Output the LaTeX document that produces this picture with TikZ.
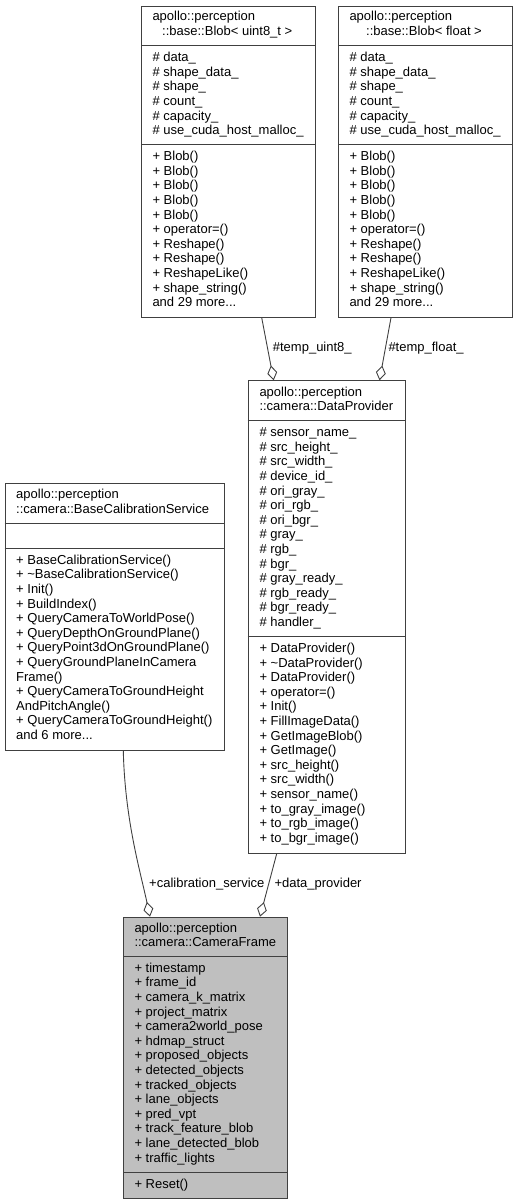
\documentclass[tikz,border=0pt]{standalone}
\usepackage{fontspec}
\setmainfont{Liberation Sans}
\usetikzlibrary{arrows.meta}
\definecolor{edgegray}{RGB}{64,64,64}
\definecolor{cfgray}{RGB}{191,191,191}
\newcommand\mdots{...}
\tikzset{
  txt/.style={inner sep=0pt, font=\fontsize{13}{14.6}\selectfont, text=black},
  classbox/.style={draw=edgegray, line width=1pt, inner sep=0pt, anchor=north west},
  sepline/.style={draw=edgegray, line width=1pt},
  agg/.style={draw=edgegray, line width=0.9pt, -{Diamond[open, length=15pt, width=10pt]}},
  lbl/.style={inner sep=0pt, font=\fontsize{13}{14.6}\selectfont, anchor=base west}
}
\newcommand\cllines[4]{%
  \foreach \lineitem [count=\i from 0] in {#4} {
    \node[txt, anchor=base west] (#1-\i) at (#2, {#3+14.6*\i}) {\lineitem};
  }}
\begin{document}
\begin{tikzpicture}[x=1pt, y=-1pt]
\useasboundingbox (0,0) rectangle (517,1204);

% ---------- Blob< uint8_t >
\node[classbox, minimum width=173.7pt, minimum height=310.7pt] (blobu) at (141,6) {};
\draw[sepline] (141,46) -- (314.7,46);
\draw[sepline] (141,144.7) -- (314.7,144.7);
\node[txt, anchor=base west] (blobu-t1) at (152.3,21) {apollo::perception};
\node[txt, anchor=base west] (blobu-t2) at (162,35.6) {::base::Blob< uint8\_t >};
\cllines{blobua}{152.3}{61.7}{\# data\_,\# shape\_data\_,\# shape\_,\# count\_,\# capacity\_,\# use\_cuda\_host\_malloc\_}
\cllines{blobum}{152.3}{160.7}{+ Blob(),+ Blob(),+ Blob(),+ Blob(),+ Blob(),+ operator=(),+ Reshape(),+ Reshape(),+ ReshapeLike(),+ shape\_string(),and 29 more\mdots}

% ---------- Blob< float >
\node[classbox, minimum width=174pt, minimum height=310.7pt] (blobf) at (338.3,6) {};
\draw[sepline] (338.3,46) -- (512.3,46);
\draw[sepline] (338.3,144.7) -- (512.3,144.7);
\node[txt, anchor=base west] (blobf-t1) at (349.3,21) {apollo::perception};
\node[txt, anchor=base west] (blobf-t2) at (366,35.6) {::base::Blob< float >};
\cllines{blobfa}{349.3}{61.7}{\# data\_,\# shape\_data\_,\# shape\_,\# count\_,\# capacity\_,\# use\_cuda\_host\_malloc\_}
\cllines{blobfm}{349.3}{160.7}{+ Blob(),+ Blob(),+ Blob(),+ Blob(),+ Blob(),+ operator=(),+ Reshape(),+ Reshape(),+ ReshapeLike(),+ shape\_string(),and 29 more\mdots}

% ---------- DataProvider
\node[classbox, minimum width=157.6pt, minimum height=472.4pt] (dp) at (247.7,380.3) {};
\draw[sepline] (247.7,420.7) -- (405.3,420.7);
\draw[sepline] (247.7,636.7) -- (405.3,636.7);
\node[txt, anchor=base west] (dp-t1) at (259.3,396.3) {apollo::perception};
\node[txt, anchor=base west] (dp-t2) at (259.3,410.9) {::camera::DataProvider};
\cllines{dpa}{259.3}{436.7}{\# sensor\_name\_,\# src\_height\_,\# src\_width\_,\# device\_id\_,\# ori\_gray\_,\# ori\_rgb\_,\# ori\_bgr\_,\# gray\_,\# rgb\_,\# bgr\_,\# gray\_ready\_,\# rgb\_ready\_,\# bgr\_ready\_,\# handler\_}
\cllines{dpm}{259.3}{652.5}{+ DataProvider(),+ \textasciitilde DataProvider(),+ DataProvider(),+ operator=(),+ Init(),+ FillImageData(),+ GetImageBlob(),+ GetImage(),+ src\_height(),+ src\_width(),+ sensor\_name(),+ to\_gray\_image(),+ to\_rgb\_image(),+ to\_bgr\_image()}

% ---------- BaseCalibrationService
\node[classbox, minimum width=219.3pt, minimum height=267pt] (bcs) at (4.7,483) {};
\draw[sepline] (4.7,523) -- (224,523);
\draw[sepline] (4.7,548.7) -- (224,548.7);
\node[txt, anchor=base west] (bcs-t1) at (16,498.7) {apollo::perception};
\node[txt, anchor=base west] (bcs-t2) at (16,513.3) {::camera::BaseCalibrationService};
\cllines{bcsm}{16}{564.2}{+ BaseCalibrationService(),+ \textasciitilde BaseCalibrationService(),+ Init(),+ BuildIndex(),+ QueryCameraToWorldPose(),+ QueryDepthOnGroundPlane(),+ QueryPoint3dOnGroundPlane(),+ QueryGroundPlaneInCamera,Frame(),+ QueryCameraToGroundHeight,AndPitchAngle(),+ QueryCameraToGroundHeight(),and 6 more\mdots}

% ---------- CameraFrame
\node[classbox, fill=cfgray, minimum width=164pt, minimum height=281.3pt] (cf) at (123.3,916.7) {};
\draw[sepline] (123.3,956.3) -- (287.3,956.3);
\draw[sepline] (123.3,1172.3) -- (287.3,1172.3);
\node[txt, anchor=base west] (cf-t1) at (134.3,932.5) {apollo::perception};
\node[txt, anchor=base west] (cf-t2) at (134.3,946.8) {::camera::CameraFrame};
\cllines{cfa}{134.3}{972.3}{+ timestamp,+ frame\_id,+ camera\_k\_matrix,+ project\_matrix,+ camera2world\_pose,+ hdmap\_struct,+ proposed\_objects,+ detected\_objects,+ tracked\_objects,+ lane\_objects,+ pred\_vpt,+ track\_feature\_blob,+ lane\_detected\_blob,+ traffic\_lights}
\node[txt, anchor=base west] (cfm-0) at (134.3,1188) {+ Reset()};

% ---------- connectors
\draw[agg] ([xshift=120.7pt]blobu.south west) -- ([xshift=26pt]dp.north west);
\node[lbl] (l1) at (272.7,351.7) {\#temp\_uint8\_};
\draw[agg] ([xshift=52.7pt]blobf.south west) -- ([xshift=131.8pt]dp.north west);
\node[lbl] (l2) at (388.3,351.7) {\#temp\_float\_};
\draw[agg] ([xshift=118.6pt]bcs.south west) .. controls (125,820) and (140,870) .. ([xshift=26.7pt]cf.north west);
\node[lbl] (l3) at (149,887.3) {+calibration\_service};
\draw[agg] ([xshift=29pt]dp.south west) -- ([xshift=136.7pt]cf.north west);
\node[lbl] (l4) at (274.3,887.3) {+data\_provider};
\end{tikzpicture}
\end{document}
